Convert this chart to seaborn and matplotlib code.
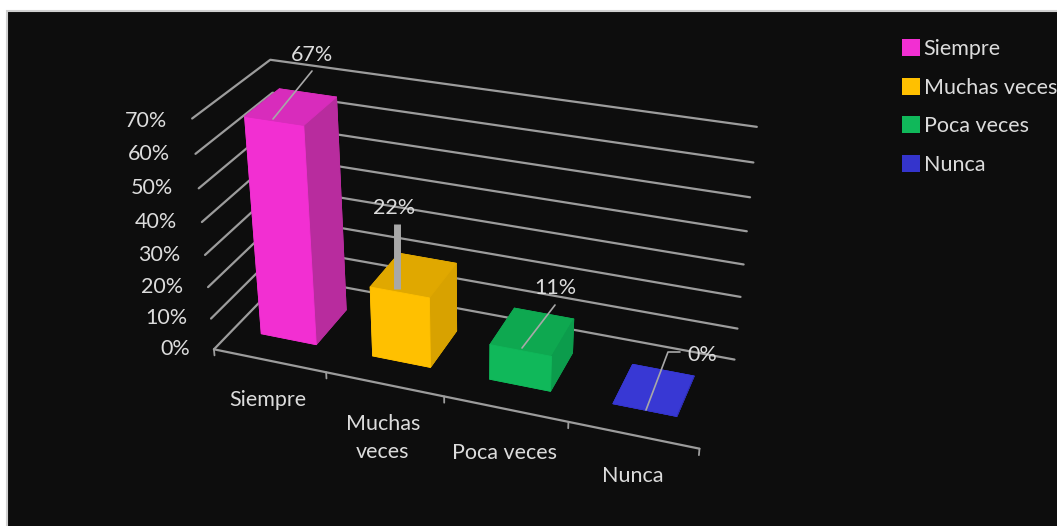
import numpy as np
import matplotlib
matplotlib.use('Agg')
import matplotlib.pyplot as plt
from matplotlib.patches import Patch, Rectangle
import seaborn as sns

categories = ['Siempre', 'Muchas veces', 'Poca veces', 'Nunca']
axis_labels = ['Siempre', 'Muchas\nveces', 'Poca veces', 'Nunca']
values = [67, 22, 11, 0]
z_ticks = [0, 10, 20, 30, 40, 50, 60, 70]

W, H = 1057, 526

sns.set_theme(style='white')
plt.rcParams['font.family'] = ['Lato', 'DejaVu Sans']
plt.rcParams['font.weight'] = 'normal'

palette = sns.color_palette(['#f22fd2', '#ffc000', '#10b85a', '#3434cc'])
side = sns.color_palette(['#b82c9e', '#d8a200', '#0c9c4c', '#2c2cae'])
top = sns.color_palette(['#d82cbc', '#e0a800', '#0ea850', '#3838d4'])
grid_col = '#9c9c9c'
txt_col = '#dcdcdc'

fig = plt.figure(figsize=(W / 100, H / 100), dpi=100, facecolor='white')
fig.add_artist(Rectangle((7 / W, -0.01), 1.01, (H - 11) / H + 0.01, transform=fig.transFigure,
                         facecolor='#0d0d0d', edgecolor='#d0d0d0', linewidth=1.5, zorder=-5))

ax = fig.add_axes([216 / W, 26 / H, 500 / W, 500 / H], projection='3d', computed_zorder=False)
ax.patch.set_alpha(0)
ax.set_proj_type('persp', focal_length=0.56)
ax.set_box_aspect((502, 162, 255), zoom=1.169)
ax.view_init(elev=28, azim=-70, roll=0)
ax.set_xlim(0, 4)
ax.set_ylim(0, 1)
ax.set_zlim(0, 70)
ax.set_axis_off()

# walls and floor edge
for z in z_ticks:
    ax.plot([0, 0, 4], [0, 1, 1], [z, z, z], color=grid_col, lw=1.6, zorder=1, clip_on=False)
ax.plot([0, 4], [0, 0], [0, 0], color=grid_col, lw=1.6, zorder=1, clip_on=False)
for i in range(5):
    ax.plot([i, i], [0, 0], [0, -2], color=grid_col, lw=1.3, zorder=1, clip_on=False)

# bar3d face order: -z, +z, -y, +y, -x, +x
face_cols = []
for i in range(len(values)):
    face_cols += [side[i], top[i], palette[i], side[i], side[i], side[i]]
xpos = np.arange(len(values)) + 0.25
ax.bar3d(xpos, 0.27, 0, 0.5, 0.46, values, color=face_cols, edgecolors=face_cols, linewidth=0.6,
         shade=False, zorder=3, clip_on=False)

# everything flat goes on an overlay in pixel coordinates
ov = fig.add_axes([0, 0, 1, 1], zorder=5)
ov.patch.set_alpha(0)
ov.set_xlim(0, W)
ov.set_ylim(H, 0)
ov.axis('off')

fs = 15.5
z_label_x = [190, 187, 183, 180, 177, 173, 170, 167]
z_label_y = [349, 318, 287, 255, 222, 188, 154, 121]
for t, x, y in zip(z_ticks, z_label_x, z_label_y):
    ov.text(x, y, f'{t}%', ha='right', va='center', color=txt_col, fontsize=fs)

cat_x = [268, 383, 505, 633]
cat_y = [400, 438, 453, 476]
for lab, x, y in zip(axis_labels, cat_x, cat_y):
    ov.text(x, y, lab, ha='center', va='center', color=txt_col, fontsize=fs, linespacing=1.45)

# data labels and leaders
val_x = [312, 394, 555, 702]
val_y = [55, 208, 288, 355]
for v, x, y in zip(values, val_x, val_y):
    ov.text(x, y, f'{v}%', ha='center', va='center', color=txt_col, fontsize=fs)
ov.plot([312, 273], [71, 119], color='#a8a8a8', lw=1.2)
ov.plot([397, 397], [224, 289], color='#a8a8a8', lw=5, solid_capstyle='butt')
ov.plot([555, 522], [305, 348], color='#a8a8a8', lw=1.2)
ov.plot([680, 668, 646], [352, 352, 410], color='#a8a8a8', lw=1.2)

handles = [Patch(facecolor=c, edgecolor='none') for c in palette]
leg = ov.legend(handles, categories, loc='upper left', bbox_to_anchor=(902 / W, 1 - 39 / H),
                frameon=False, fontsize=fs, labelcolor=txt_col, handlelength=0.85, handleheight=0.85,
                handletextpad=0.15, labelspacing=0.86, borderpad=0, borderaxespad=0)

fig.savefig('out.png', dpi=100, facecolor=fig.get_facecolor())
